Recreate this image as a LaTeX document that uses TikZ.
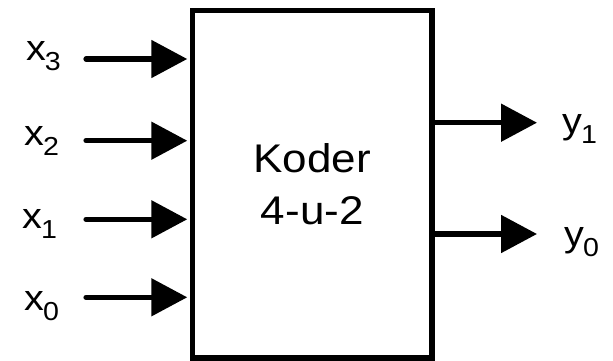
\documentclass[tikz,border=0pt]{standalone}
\usepackage{fontspec}
\setmainfont{Liberation Sans}[FakeStretch=1.1]
\usetikzlibrary{arrows.meta}
\newcommand\sig[2]{#1\kern-1pt\raisebox{-10pt}{\fontsize{26}{26}\selectfont #2}}
\tikzset{
  blockbox/.style={draw, line width=5.5pt, rectangle, minimum width=239.5pt,
    minimum height=347.5pt, inner sep=0pt, align=center,
    font=\fontsize{40}{52}\selectfont},
  sigwire/.style={line width=5.2pt, line cap=round,
    -{Triangle[length=36pt,width=37pt,line cap=butt]}},
  siglabel/.style={anchor=base west, inner sep=0pt, font=\fontsize{36}{36}\selectfont}
}
\begin{document}
\begin{tikzpicture}[x=1pt, y=-1pt]
  \useasboundingbox (0,0) rectangle (613,361);

  % the 4-to-2 encoder block
  \node[blockbox] (enc) at (312.25,184.25) {Koder\\4-u-2};

  % input labels
  \node[siglabel] (x3) at (26,60)  {\sig{x}{3}};
  \node[siglabel] (x2) at (24,145) {\sig{x}{2}};
  \node[siglabel] (x1) at (22,228) {\sig{x}{1}};
  \node[siglabel] (x0) at (24,310) {\sig{x}{0}};

  % output labels
  \node[siglabel] (y1) at (562,133) {\sig{y}{1}};
  \node[siglabel] (y0) at (564,246) {\sig{y}{0}};

  % wire ends
  \coordinate (i3) at (86,59);
  \coordinate (i2) at (86,140.7);
  \coordinate (i1) at (86,219.3);
  \coordinate (i0) at (86,297.3);
  \coordinate (o1) at (537,122.7);
  \coordinate (o0) at (537,234);

  % input wires
  \foreach \k in {3,2,1,0}
    \draw[sigwire, shorten >=2.5pt] (i\k) -- (i\k -| enc.west);

  % output wires
  \foreach \k in {1,0}
    \draw[sigwire] (o\k -| enc.east) -- (o\k);
\end{tikzpicture}
\end{document}
